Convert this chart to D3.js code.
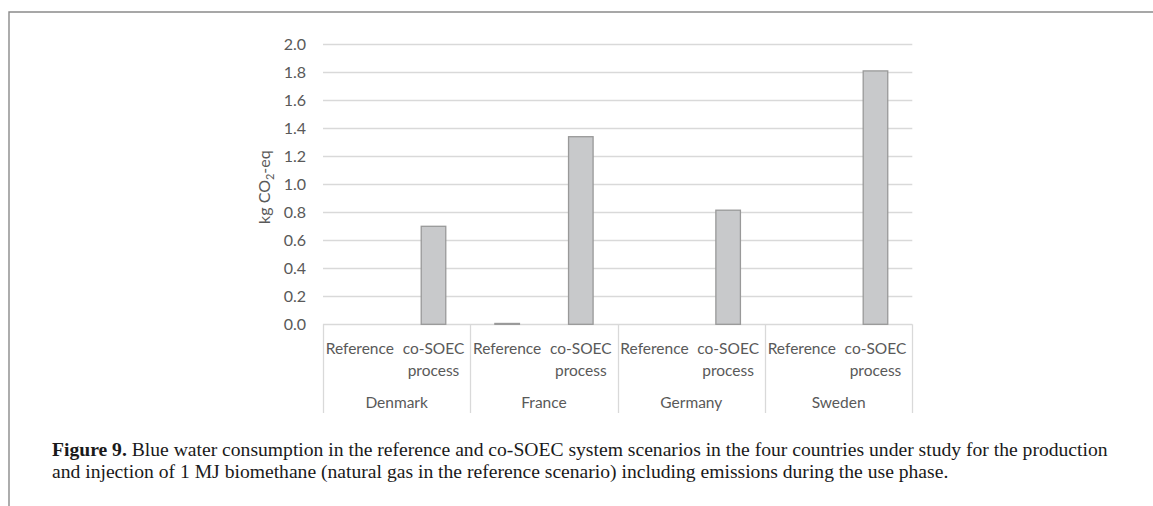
<!DOCTYPE html>
<html>
<head>
<meta charset="utf-8">
<script src="https://cdn.jsdelivr.net/npm/d3@7"></script>
<style>
  html, body { margin: 0; padding: 0; background: #fff; }
  svg { display: block; }
</style>
</head>
<body>
<svg id="chart" width="1153" height="506"></svg>
<script>
// Countries along the axis and the two scenarios within each country
const countries = ["Denmark", "France", "Germany", "Sweden"];
const scenarios = ["Reference", "co-SOEC process"];
// Scenario labels as they are wrapped under each bar
const scenarioLines = [["Reference"], ["co-SOEC", "process"]];

// kg CO2-eq per country, one array per scenario
const referenceValues = [0.0, 0.006, 0.0, 0.0];
const coSoecValues = [0.70, 1.34, 0.815, 1.81];

// Value axis ticks
const yTicks = [0.0, 0.2, 0.4, 0.6, 0.8, 1.0, 1.2, 1.4, 1.6, 1.8, 2.0];

const captionBold = "Figure 9.";
const captionLine1 = " Blue water consumption in the reference and co-SOEC system scenarios in the four countries under study for the production";
const captionLine2 = "and injection of 1 MJ biomethane (natural gas in the reference scenario) including emissions during the use phase.";

const rows = countries.map((c, i) => ({
  country: c,
  values: [referenceValues[i], coSoecValues[i]]
}));

const svg = d3.select("#chart");
const axisFont = "Lato, 'Open Sans', sans-serif";
const axisSize = 15.5;
const textColor = "#595959";
const gridColor = "#d9d9d9";

// Page frame
svg.append("path")
  .attr("d", "M9,506 V12 H1153")
  .attr("fill", "none")
  .attr("stroke", "#8a8a8a")
  .attr("stroke-width", 1.4);

const plot = { left: 323, right: 912.3, top: 44.3, bottom: 324.3 };

const x0 = d3.scaleBand().domain(countries).range([plot.left, plot.right]).padding(0);
const x1 = d3.scaleBand().domain(d3.range(scenarios.length)).range([0, x0.bandwidth()]).padding(0);
const y = d3.scaleLinear().domain([0, 2]).range([plot.bottom, plot.top]);

// Horizontal gridlines (the zero line doubles as the category axis)
svg.append("g")
  .selectAll("line")
  .data(yTicks)
  .join("line")
  .attr("x1", plot.left)
  .attr("x2", plot.right)
  .attr("y1", d => Math.round(y(d)) + 0.5)
  .attr("y2", d => Math.round(y(d)) + 0.5)
  .attr("stroke", gridColor)
  .attr("stroke-width", 1.3);

// Value axis labels
svg.append("g")
  .selectAll("text")
  .data(yTicks)
  .join("text")
  .attr("x", 306)
  .attr("y", d => y(d))
  .attr("dy", "0.35em")
  .attr("text-anchor", "end")
  .attr("font-family", axisFont)
  .attr("font-size", 16)
  .attr("fill", textColor)
  .text(d => d3.format(".1f")(d));

// Value axis title
const title = svg.append("text")
  .attr("transform", `translate(270,${y(0.98)}) rotate(-90)`)
  .attr("text-anchor", "middle")
  .attr("font-family", axisFont)
  .attr("font-size", 16)
  .attr("fill", textColor);
title.append("tspan").text("kg CO");
title.append("tspan").attr("font-size", 11).attr("dy", 4).text("2");
title.append("tspan").attr("dy", -4).text("-eq");

// Bars: one third of the category slot, centred
const groups = svg.append("g")
  .selectAll("g")
  .data(rows)
  .join("g")
  .attr("transform", d => `translate(${x0(d.country)},0)`);

groups.selectAll("rect")
  .data(d => d.values.map((v, i) => ({ v, i })))
  .join("rect")
  .attr("x", d => x1(d.i) + x1.bandwidth() / 3)
  .attr("width", x1.bandwidth() / 3)
  .attr("y", d => y(d.v))
  .attr("height", d => y(0) - y(d.v))
  .attr("fill", "#c8c9cb")
  .attr("stroke", "#999999")
  .attr("stroke-width", 1.3);

// Category separators of the two-level axis
const dividers = countries.map(c => x0(c)).concat([plot.right]);
svg.append("g")
  .selectAll("line")
  .data(dividers)
  .join("line")
  .attr("x1", d => Math.round(d) + 0.5)
  .attr("x2", d => Math.round(d) + 0.5)
  .attr("y1", plot.bottom)
  .attr("y2", 413)
  .attr("stroke", gridColor)
  .attr("stroke-width", 1.3);

// Scenario labels
groups.selectAll("text.scenario")
  .data(scenarioLines.map((lines, i) => ({ lines, i })))
  .join("text")
  .attr("class", "scenario")
  .attr("text-anchor", "middle")
  .attr("font-family", axisFont)
  .attr("font-size", axisSize)
  .attr("fill", textColor)
  .each(function (d) {
    const cx = x1(d.i) + x1.bandwidth() / 2;
    d3.select(this).selectAll("tspan")
      .data(d.lines)
      .join("tspan")
      .attr("x", cx)
      .attr("y", (l, k) => 353.5 + k * 22)
      .text(l => l);
  });

// Country labels
groups.append("text")
  .attr("x", x0.bandwidth() / 2)
  .attr("y", 408)
  .attr("text-anchor", "middle")
  .attr("font-family", axisFont)
  .attr("font-size", axisSize)
  .attr("fill", textColor)
  .text(d => d.country);

// Caption below the chart
const capFont = "'Liberation Serif', 'DejaVu Serif', serif";
const capX = 52;
const capRight = 1108;
const cap1 = svg.append("text")
  .attr("x", capX).attr("y", 456)
  .attr("font-family", capFont).attr("font-size", 17).attr("fill", "#1a1a1a");
cap1.append("tspan").attr("font-weight", "bold").text(captionBold);
cap1.append("tspan").text(captionLine1);
const cap2 = svg.append("text")
  .attr("x", capX).attr("y", 478)
  .attr("font-family", capFont).attr("font-size", 17).attr("fill", "#1a1a1a")
  .text(captionLine2);

// Size the caption so its first line spans the text column
const w = cap1.node().getComputedTextLength();
const fs = 17 * (capRight - capX) / w;
cap1.attr("font-size", fs);
cap2.attr("font-size", fs);
</script>
</body>
</html>
